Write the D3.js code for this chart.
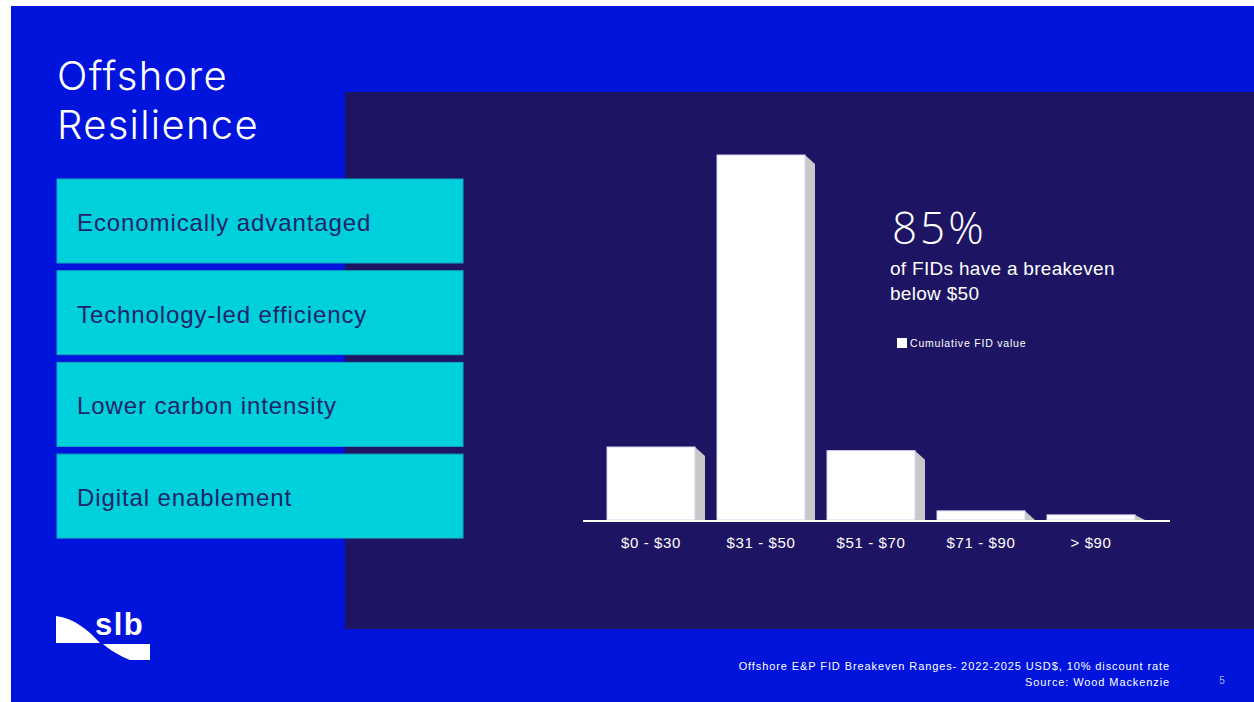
<!DOCTYPE html>
<html>
<head>
<meta charset="utf-8">
<script src="https://cdn.jsdelivr.net/npm/d3@7"></script>
<style>
  html, body { margin: 0; padding: 0; background: #fff; }
  svg { display: block; font-family: 'Liberation Sans', Arial, sans-serif; }
</style>
</head>
<body>
<svg id="slide"></svg>
<script>
// chart data
var categories = ['$0 - $30', '$31 - $50', '$51 - $70', '$71 - $90', '> $90'];
var values = [20, 100, 19, 2.5, 1.4];	// cumulative FID value (relative)
var pillars = ['Economically advantaged', 'Technology-led efficiency', 'Lower carbon intensity', 'Digital enablement'];
var titleLines = ['Offshore', 'Resilience'];
var noteLines = ['Offshore E&P FID Breakeven Ranges- 2022-2025 USD$, 10% discount rate', 'Source: Wood Mackenzie'];

var width = 1254;
var height = 702;

var svg = d3.select('#slide')
	.attr('width', width)
	.attr('height', height);

// slide backgrounds
svg.append('rect')
	.attr('x', 11).attr('y', 6)
	.attr('width', width - 11).attr('height', height - 6)
	.attr('fill', '#0014DC');

svg.append('rect')
	.attr('x', 345).attr('y', 92)
	.attr('width', width - 345).attr('height', 537)
	.attr('fill', '#1E1464');

// title
svg.selectAll('.title')
	.data(titleLines)
	.enter().append('text')
	.attr('class', 'title')
	.attr('x', 57)
	.attr('y', function(d, i) { return 90 + i * 49; })
	.attr('fill', '#fff')
	.style('font-family', "Inter, sans-serif")
	.style('font-weight', 300)
	.style('font-size', '40px')
	.style('letter-spacing', '1.3px')
	.text(function(d) { return d; });

// cyan pillar boxes
var boxes = svg.selectAll('.pillar')
	.data(pillars)
	.enter().append('g')
	.attr('class', 'pillar')
	.attr('transform', function(d, i) { return 'translate(57,' + (179 + i * 91.7) + ')'; });

boxes.append('rect')
	.attr('width', 406)
	.attr('height', 84)
	.attr('fill', '#00D0DC')
	.attr('stroke', '#10A8C0')
	.attr('stroke-width', 1);

boxes.append('text')
	.attr('x', 20)
	.attr('y', 52)
	.attr('fill', '#23236A')
	.style('font-size', '24px')
	.style('letter-spacing', '0.9px')
	.text(function(d) { return d; });

// bar chart
var x = d3.scaleBand()
	.domain(categories)
	.range([596, 1146])
	.paddingInner(0.2)
	.paddingOuter(0.1);

var y = d3.scaleLinear()
	.domain([0, 100])
	.range([520, 155]);

var depth = 10;
var data = categories.map(function(c, i) { return { cat: c, value: values[i] }; });

var bars = svg.append('g').attr('class', 'bars');

// side faces (fake 3d)
bars.selectAll('.side')
	.data(data)
	.enter().append('path')
	.attr('class', 'side')
	.attr('fill', '#C8C8C8')
	.attr('d', function(d) {
		var x0 = x(d.cat) + x.bandwidth();
		var top = y(d.value);
		var base = y(0);
		var drop = Math.min(depth * 0.9, base - top);
		return 'M' + x0 + ',' + top +
			'L' + (x0 + depth) + ',' + (top + drop) +
			'L' + (x0 + depth) + ',' + base +
			'L' + x0 + ',' + base + 'Z';
	});

bars.selectAll('.front')
	.data(data)
	.enter().append('rect')
	.attr('class', 'front')
	.attr('x', function(d) { return x(d.cat); })
	.attr('y', function(d) { return y(d.value); })
	.attr('width', x.bandwidth())
	.attr('height', function(d) { return y(0) - y(d.value); })
	.attr('fill', '#fff')
	.attr('stroke', '#D8D4F0')
	.attr('stroke-width', 1);

// baseline
svg.append('line')
	.attr('x1', 583).attr('x2', 1170)
	.attr('y1', y(0) + 1).attr('y2', y(0) + 1)
	.attr('stroke', '#fff')
	.attr('stroke-width', 2);

// category labels via axis
var axis = svg.append('g')
	.attr('transform', 'translate(0,' + (y(0) + 14) + ')')
	.call(d3.axisBottom(x).tickSize(0));

axis.select('.domain').remove();
axis.selectAll('text')
	.attr('fill', '#fff')
	.style('font-family', "'Liberation Sans', Arial, sans-serif")
	.style('font-size', '15px')
	.style('letter-spacing', '0.6px');

// annotation
svg.append('text')
	.attr('x', 892).attr('y', 244)
	.attr('fill', '#fff')
	.style('font-family', "'Open Sans', sans-serif")
	.style('font-weight', 300)
	.style('font-size', '44px')
	.style('letter-spacing', '3px')
	.text('85%');

svg.selectAll('.sub')
	.data(['of FIDs have a breakeven', 'below $50'])
	.enter().append('text')
	.attr('class', 'sub')
	.attr('x', 890)
	.attr('y', function(d, i) { return 275 + i * 25; })
	.attr('fill', '#fff')
	.style('font-size', '19px')
	.style('letter-spacing', '0.3px')
	.text(function(d) { return d; });

// legend
svg.append('rect')
	.attr('x', 897).attr('y', 338)
	.attr('width', 10).attr('height', 10)
	.attr('fill', '#fff');

svg.append('text')
	.attr('x', 910).attr('y', 347)
	.attr('fill', '#fff')
	.style('font-size', '10.5px')
	.style('letter-spacing', '0.8px')
	.text('Cumulative FID value');

// footnote
svg.selectAll('.note')
	.data(noteLines)
	.enter().append('text')
	.attr('class', 'note')
	.attr('x', 1170)
	.attr('y', function(d, i) { return 670 + i * 16; })
	.attr('text-anchor', 'end')
	.attr('fill', '#fff')
	.style('font-size', '11px')
	.style('letter-spacing', '0.9px')
	.text(function(d) { return d; });

svg.append('text')
	.attr('x', 1222).attr('y', 684)
	.attr('text-anchor', 'middle')
	.attr('fill', '#A8B0E8')
	.style('font-size', '10px')
	.text('5');

// slb logo
var logo = svg.append('g').attr('fill', '#fff');
logo.append('path')
	.attr('d', 'M56,616 C74,618 88,630 100,643 L56,643 Z');
logo.append('path')
	.attr('d', 'M103,644 L150,644 L150,660 L130,660 C120,656 110,650 103,644 Z');
logo.append('text')
	.attr('x', 95).attr('y', 635)
	.style('font-size', '31px')
	.style('font-weight', 'bold')
	.style('letter-spacing', '1.5px')
	.text('slb');
</script>
</body>
</html>
